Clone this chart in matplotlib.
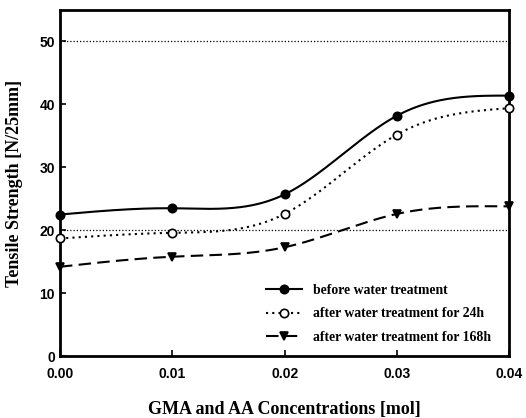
import numpy as np
import matplotlib
matplotlib.use("Agg")
import matplotlib.pyplot as plt

conc = [0.00, 0.01, 0.02, 0.03, 0.04]
before = [22.5, 23.5, 25.7, 38.2, 41.4]
after24 = [18.7, 19.6, 22.6, 35.2, 39.4]
after168 = [14.2, 15.8, 17.3, 22.6, 23.8]
labels = ["before water treatment", "after water treatment for 24h",
          "after water treatment for 168h"]
xticks = [0.00, 0.01, 0.02, 0.03, 0.04]
yticks = [0, 10, 20, 30, 40, 50]


def natural_spline(x, y, xn):
    x = np.asarray(x, float); y = np.asarray(y, float)
    n = len(x); h = np.diff(x)
    A = np.zeros((n, n)); r = np.zeros(n)
    A[0, 0] = 1; A[-1, -1] = 1
    for i in range(1, n - 1):
        A[i, i - 1] = h[i - 1]; A[i, i] = 2 * (h[i - 1] + h[i]); A[i, i + 1] = h[i]
        r[i] = 6 * ((y[i + 1] - y[i]) / h[i] - (y[i] - y[i - 1]) / h[i - 1])
    M = np.linalg.solve(A, r)
    idx = np.clip(np.searchsorted(x, xn) - 1, 0, n - 2)
    hi = h[idx]; a = x[idx + 1] - xn; b = xn - x[idx]
    return (M[idx] * a**3 / (6 * hi) + M[idx + 1] * b**3 / (6 * hi)
            + (y[idx] / hi - M[idx] * hi / 6) * a + (y[idx + 1] / hi - M[idx + 1] * hi / 6) * b)


fig = plt.figure(figsize=(5.26, 4.18), dpi=100)
ax = fig.add_axes([0.114, 0.148, 0.854, 0.828])
xs = np.linspace(conc[0], conc[-1], 400)

ax.axhline(20, color="black", lw=0.9, ls=(0, (1, 1.6)), zorder=1)
ax.axhline(50, color="black", lw=0.9, ls=(0, (1, 1.6)), zorder=1)

styles = [
    dict(ls="-", marker="o", mfc="black", mec="black", ms=6),
    dict(ls=(0, (1, 2)), marker="o", mfc="white", mec="black", ms=6),
    dict(ls=(0, (6, 3)), marker="v", mfc="black", mec="black", ms=5.5),
]
for ys, lab, st in zip([before, after24, after168], labels, styles):
    ax.plot(xs, natural_spline(conc, ys, xs), color="black", ls=st["ls"], lw=1.5, zorder=2)
    ax.plot(conc, ys, ls="none", marker=st["marker"], ms=st["ms"], mfc=st["mfc"],
            mec=st["mec"], mew=1.2, zorder=3, clip_on=False)
    ax.plot([], [], color="black", ls=st["ls"], lw=1.5, marker=st["marker"],
            ms=st["ms"], mfc=st["mfc"], mec=st["mec"], mew=1.2, label=lab)

ax.set_xlim(0, 0.04)
ax.set_ylim(0, 55)
ax.set_xticks(xticks)
ax.set_xticklabels([f"{v:.2f}" for v in xticks])
ax.set_yticks(yticks)
for lab in ax.get_xticklabels() + ax.get_yticklabels():
    lab.set_fontfamily("Liberation Sans")
    lab.set_fontweight("bold")
    lab.set_fontsize(10)
ax.tick_params(direction="in", length=4, width=1.2)
ax.tick_params(axis="x", pad=8)
for sp in ax.spines.values():
    sp.set_linewidth(2)

ax.set_xlabel("GMA and AA Concentrations [mol]", family="Liberation Serif",
              weight="bold", fontsize=13, labelpad=14)
ax.set_ylabel("Tensile Strength [N/25mm]", family="Liberation Serif",
              weight="bold", fontsize=13, labelpad=12)

leg = ax.legend(loc="lower right", bbox_to_anchor=(0.987, 0.0), frameon=False,
                prop=dict(family="Liberation Serif", weight="bold", size=9.9),
                handlelength=2.6, labelspacing=0.75)

fig.savefig("out.png", dpi=100)
